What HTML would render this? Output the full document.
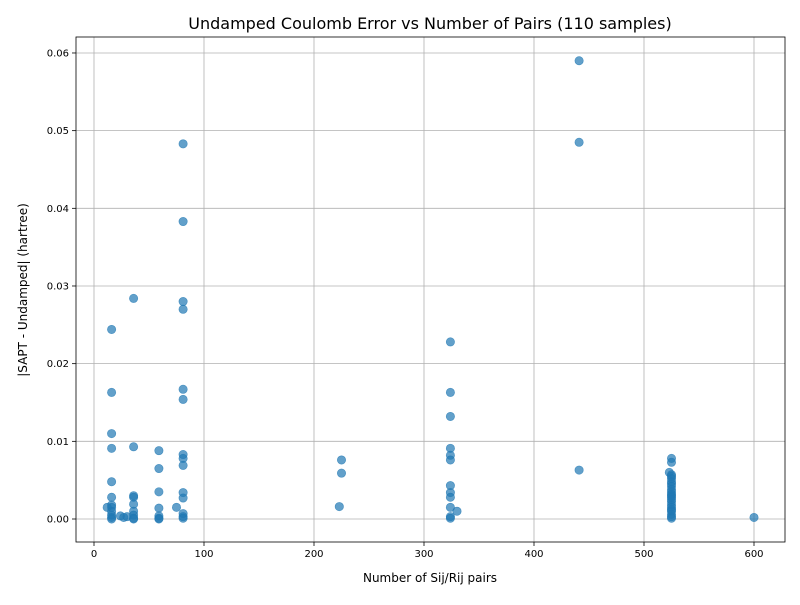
<!DOCTYPE html>
<html><head><meta charset="utf-8"><style>
body{margin:0;background:#fff;font-family:"Liberation Sans","DejaVu Sans",sans-serif;}
</style></head><body>
<svg id="chart" width="800" height="600" font-family="DejaVu Sans, Liberation Sans, sans-serif">
<rect width="800" height="600" fill="#fff"/>
<text x="430" y="29" text-anchor="middle" font-size="16">Undamped Coulomb Error vs Number of Pairs (110 samples)</text>
<g id="grid"></g><g id="pts"></g><g id="axes"></g>
<text x="430" y="582" text-anchor="middle" font-size="12">Number of Sij/Rij pairs</text>
<text transform="translate(27,290) rotate(-90)" text-anchor="middle" font-size="12">|SAPT - Undamped| (hartree)</text>
</svg>
<script>
const xTicks=[0,100,200,300,400,500,600];
const yTicks=[0,0.01,0.02,0.03,0.04,0.05,0.06];
const yTickLabels=["0.00","0.01","0.02","0.03","0.04","0.05","0.06"];
const pairsX=[16,16,16,16,16,16,16,16,16,16,16,16,12,24,27,30,
36,36,36,36,36,36,36,36,36,
59,59,59,59,59,59,59,75,
81,81,81,81,81,81,81,81,81,81,81,81,81,81,
225,225,223,
324,324,324,324,324,324,324,324,324,324,324,324,330,
441,441,441,
525,525,523,525,525,525,525,525,525,525,525,525,525,525,525,525,525,525,525,525,525,525,525,600];
const errorY=[0.0244,0.0163,0.0110,0.0091,0.0048,0.0028,0.0018,0.0015,0.0010,0.0005,0.0002,0.0000,0.0015,0.0004,0.0002,0.0003,
0.0284,0.0093,0.0030,0.0028,0.0019,0.0010,0.0005,0.0001,0.0000,
0.0088,0.0065,0.0035,0.0014,0.0004,0.0001,0.0000,0.0015,
0.0483,0.0383,0.0280,0.0270,0.0167,0.0154,0.0083,0.0078,0.0069,0.0034,0.0027,0.0007,0.0003,0.0001,
0.0076,0.0059,0.0016,
0.0228,0.0163,0.0132,0.0091,0.0082,0.0076,0.0043,0.0034,0.0028,0.0015,0.0003,0.0001,0.0010,
0.0590,0.0485,0.0063,
0.0078,0.0073,0.0060,0.0057,0.0055,0.0052,0.0048,0.0045,0.0042,0.0038,0.0035,0.0032,0.0030,0.0028,0.0025,0.0022,0.0018,0.0015,0.0012,0.0010,0.0006,0.0003,0.0001,0.0002];
const NS="http://www.w3.org/2000/svg";
const L=76,R=785,T=37,B=542;
const xs=v=>94+v*1.1;
const ys=v=>519-v*7767;
function mk(t,a,p){const e=document.createElementNS(NS,t);for(const k in a)e.setAttribute(k,a[k]);p.appendChild(e);return e;}
const g=document.getElementById('grid'),P=document.getElementById('pts'),A=document.getElementById('axes');
xTicks.forEach(v=>{const x=xs(v);
const l=mk('line',{x1:x,x2:x,y1:T,y2:B,stroke:'#b0b0b0','stroke-width':0.8},g);


mk('line',{x1:x,x2:x,y1:B,y2:B+4,stroke:'#000','stroke-width':0.8},A);
const t=mk('text',{x:x,y:B+15,'text-anchor':'middle','font-size':10},A);t.textContent=v;

});
yTicks.forEach((v,i)=>{const y=ys(v);
const l=mk('line',{x1:L,x2:R,y1:y,y2:y,stroke:'#b0b0b0','stroke-width':0.8},g);


mk('line',{x1:L-4,x2:L,y1:y,y2:y,stroke:'#000','stroke-width':0.8},A);
const t=mk('text',{x:L-7,y:y+3.5,'text-anchor':'end','font-size':10},A);t.textContent=yTickLabels[i];

});
const fr=mk('rect',{x:L,y:T,width:R-L,height:B-T,fill:'none',stroke:'#000','stroke-width':0.8},A);


pairsX.forEach((v,i)=>{const c=mk('circle',{cx:xs(v),cy:ys(errorY[i]),r:4.2,fill:'#1f77b4','fill-opacity':0.7,stroke:'#1f77b4','stroke-opacity':0.7,'stroke-width':0.6},P);

});
</script>
</body></html>
